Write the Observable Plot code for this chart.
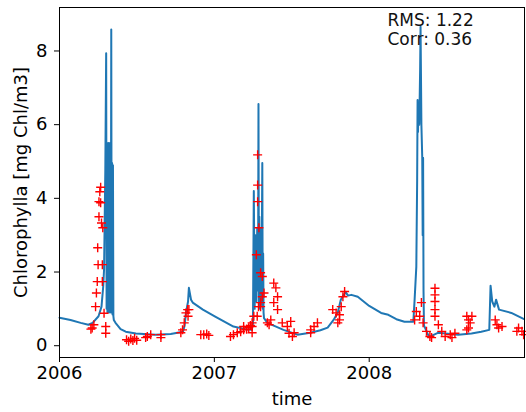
<!DOCTYPE html>
<html>
<head>
<meta charset="utf-8">
<script src="https://cdn.jsdelivr.net/npm/d3@7"></script>
<script src="https://cdn.jsdelivr.net/npm/@observablehq/plot@0.6"></script>
<style>
  html, body { margin: 0; padding: 0; background: #fff; }
  #chart svg { display: block; }
</style>
</head>
<body>
<div id="chart"></div>
<script>
// ---- Data ----
const modelDates = [
  "2006-01-01","2006-01-27","2006-02-20","2006-03-10","2006-03-20","2006-04-03","2006-04-10","2006-04-14",
  "2006-04-16","2006-04-17","2006-04-18","2006-04-19","2006-04-21","2006-04-22","2006-04-23","2006-04-24",
  "2006-04-25","2006-04-26","2006-04-27","2006-04-28","2006-04-29","2006-04-30","2006-05-01","2006-05-02",
  "2006-05-03","2006-05-04","2006-05-05","2006-05-06","2006-05-07","2006-05-08","2006-05-09","2006-05-13",
  "2006-05-25","2006-06-06","2006-06-30","2006-08-16","2006-09-20","2006-10-19","2006-10-23","2006-10-26",
  "2006-10-31","2006-11-02","2006-11-07","2006-11-11","2006-12-05",
  "2007-01-03","2007-02-15","2007-03-15","2007-03-30","2007-04-02","2007-04-04","2007-04-06","2007-04-08",
  "2007-04-10","2007-04-12","2007-04-14","2007-04-15","2007-04-16","2007-04-17","2007-04-18","2007-04-19",
  "2007-04-20","2007-04-21","2007-04-22","2007-04-24","2007-04-25","2007-04-26","2007-04-27","2007-04-28",
  "2007-05-06","2007-06-13","2007-07-16","2007-08-15","2007-09-08","2007-09-25","2007-10-09","2007-10-19",
  "2007-10-26","2007-11-06","2007-11-12","2007-11-20","2007-12-05",
  "2008-01-01","2008-01-29","2008-02-15","2008-03-05","2008-03-24","2008-04-14","2008-04-17","2008-04-21",
  "2008-04-23","2008-04-24","2008-04-25","2008-04-26","2008-04-28","2008-04-30","2008-05-01","2008-05-03",
  "2008-05-05","2008-05-06","2008-05-07","2008-05-08","2008-05-09","2008-05-21","2008-06-11","2008-07-29",
  "2008-08-29","2008-09-21","2008-10-10","2008-10-13","2008-10-17","2008-10-22","2008-10-26","2008-11-02",
  "2008-12-01","2008-12-31"
];
const modelChl = [
  0.76,0.70,0.62,0.57,0.62,0.80,1.06,1.60,
  2.06,2.95,3.88,4.77,7.94,1.00,5.50,0.90,
  5.40,1.00,5.50,0.90,5.30,1.00,5.50,0.90,
  8.58,0.90,4.96,0.85,4.90,0.80,0.70,0.62,
  0.45,0.38,0.33,0.30,0.32,0.38,0.55,0.89,
  1.20,1.57,1.25,1.17,0.98,
  0.79,0.52,0.45,0.43,0.60,4.20,1.00,3.00,
  1.20,3.20,1.50,6.56,1.20,3.50,1.00,3.20,
  1.10,3.00,1.20,4.96,1.00,2.50,0.90,0.75,
  0.62,0.43,0.30,0.35,0.42,0.49,0.70,0.90,
  1.25,1.46,1.36,1.38,1.33,
  1.08,0.89,0.84,0.72,0.65,0.65,1.25,2.14,
  4.50,6.67,5.80,6.60,6.00,7.50,8.66,6.00,
  5.10,3.00,5.10,1.50,0.55,0.24,0.35,0.30,
  0.33,0.38,0.43,1.63,1.20,1.06,1.25,0.98,
  0.89,0.72
];

const obsDates = [
  "2006-03-16","2006-03-19","2006-03-23","2006-03-27","2006-03-29","2006-03-31","2006-04-01","2006-04-02",
  "2006-04-04","2006-04-04","2006-04-06","2006-04-08","2006-04-08","2006-04-10","2006-04-12","2006-04-12",
  "2006-04-13","2006-04-16","2006-04-20","2006-04-20",
  "2006-06-08","2006-06-13","2006-06-18","2006-06-23","2006-06-27","2006-07-02","2006-07-23","2006-07-27",
  "2006-08-04","2006-08-28","2006-08-28","2006-10-14","2006-10-18","2006-10-22","2006-10-26","2006-10-30",
  "2006-10-31","2006-11-02","2006-11-30","2006-12-07","2006-12-14","2006-12-19",
  "2007-02-08","2007-02-15","2007-02-24","2007-03-04","2007-03-11","2007-03-11","2007-03-18","2007-03-23",
  "2007-03-27","2007-03-31","2007-03-31","2007-03-31","2007-04-04","2007-04-10","2007-04-12","2007-04-13",
  "2007-04-13","2007-04-13","2007-04-15","2007-04-16","2007-04-20","2007-04-20","2007-04-20","2007-04-24",
  "2007-04-24","2007-04-28","2007-05-06","2007-05-10","2007-05-14","2007-05-21","2007-05-21","2007-05-26",
  "2007-05-30","2007-05-30","2007-06-10","2007-06-22","2007-06-26","2007-06-30","2007-07-04","2007-07-08",
  "2007-08-16","2007-08-16","2007-08-24","2007-09-01","2007-10-07","2007-10-15","2007-10-19","2007-10-23",
  "2007-10-23","2007-10-27","2007-10-31","2007-11-04",
  "2008-04-17","2008-04-21","2008-04-29","2008-05-03","2008-05-07","2008-05-15","2008-05-23","2008-05-27",
  "2008-06-04","2008-06-04","2008-06-04","2008-06-04","2008-06-04","2008-06-12","2008-06-20","2008-06-28",
  "2008-07-10","2008-07-14","2008-07-21","2008-08-18","2008-08-18","2008-08-22","2008-08-22","2008-08-26",
  "2008-08-30","2008-10-24","2008-10-28","2008-11-01","2008-11-09","2008-12-14","2008-12-18","2008-12-26",
  "2008-12-30"
];
const obsChl = [
  0.45,0.48,0.57,1.06,1.43,1.74,2.66,2.20,
  3.91,3.50,4.18,4.30,3.88,3.33,2.20,1.74,
  3.20,0.88,0.52,0.34,
  0.16,0.12,0.18,0.14,0.20,0.15,0.22,0.25,
  0.30,0.30,0.22,0.35,0.43,0.62,0.89,0.98,
  0.80,0.98,0.30,0.30,0.32,0.28,
  0.25,0.30,0.35,0.38,0.43,0.52,0.45,0.49,
  0.55,0.62,0.35,0.52,0.80,2.47,0.80,5.18,
  4.36,3.91,1.06,3.20,1.98,1.17,1.06,1.88,
  1.33,1.43,0.62,0.57,0.70,1.70,1.17,1.57,
  1.33,0.98,0.62,0.52,0.34,0.66,0.25,0.35,
  0.43,0.35,0.52,0.62,0.98,0.89,0.62,0.70,
  0.84,1.06,1.33,1.47,
  0.70,0.93,0.80,1.17,0.62,0.39,0.25,0.22,
  1.56,1.38,1.20,0.98,0.80,0.57,0.39,0.25,
  0.30,0.22,0.34,0.80,0.43,0.70,0.48,0.62,
  0.80,0.70,0.57,0.48,0.52,0.39,0.48,0.39,
  0.30
];

const xTickYears = ["2006-01-01","2007-01-01","2008-01-01"];
const xDomain = ["2006-01-01","2009-01-01"];
const yTicks = [0, 2, 4, 6, 8];
const statsLines = ["RMS: 1.22", "Corr: 0.36"];
const xLabel = "time";
const yLabel = "Chlorophylla [mg Chl/m3]";

// ---- Build tables ----
const parse = d3.utcParse("%Y-%m-%d");
const model = modelDates.map((d, i) => ({date: parse(d), chl: modelChl[i]}));
const obs = obsDates.map((d, i) => ({date: parse(d), chl: obsChl[i]}));

// matplotlib-style "+" marker (thin stroked plus)
const plusSymbol = {
  draw(context, size) {
    const r = Math.sqrt(size / Math.PI);
    context.moveTo(-r, 0); context.lineTo(r, 0);
    context.moveTo(0, -r); context.lineTo(0, r);
  }
};

const chart = Plot.plot({
  width: 526,
  height: 412,
  marginLeft: 59,
  marginRight: 2,
  marginTop: 7,
  marginBottom: 55,
  style: {fontFamily: "DejaVu Sans", fontSize: "18px", background: "#fff", color: "#000"},
  x: {type: "utc", domain: xDomain.map(parse)},
  y: {domain: [-0.32, 9.18]},
  marks: [
    Plot.axisX({
      ticks: xTickYears.map(parse), tickFormat: d3.utcFormat("%Y"),
      tickSize: 5, tickPadding: 4, fontSize: 18,
      label: xLabel, labelAnchor: "center", labelArrow: "none", labelOffset: 47
    }),
    Plot.axisY({
      ticks: yTicks, tickSize: 5, tickPadding: 7, fontSize: 18,
      label: yLabel, labelAnchor: "center", labelArrow: "none", labelOffset: 45
    }),
    Plot.line(model, {x: "date", y: "chl", stroke: "#1f77b4", strokeWidth: 2}),
    Plot.dot(obs, {x: "date", y: "chl", symbol: plusSymbol, r: 4.5, stroke: "#ff0000", strokeWidth: 1.4, fill: "none"}),
    Plot.text([statsLines.join("\n")], {
      frameAnchor: "top-left", dx: 328, dy: 4, lineAnchor: "top", textAnchor: "start",
      fontSize: 17, lineHeight: 1.16, fill: "#111"
    }),
    Plot.frame({stroke: "#000", strokeWidth: 1})
  ]
});
document.getElementById("chart").appendChild(chart);
</script>
</body>
</html>
